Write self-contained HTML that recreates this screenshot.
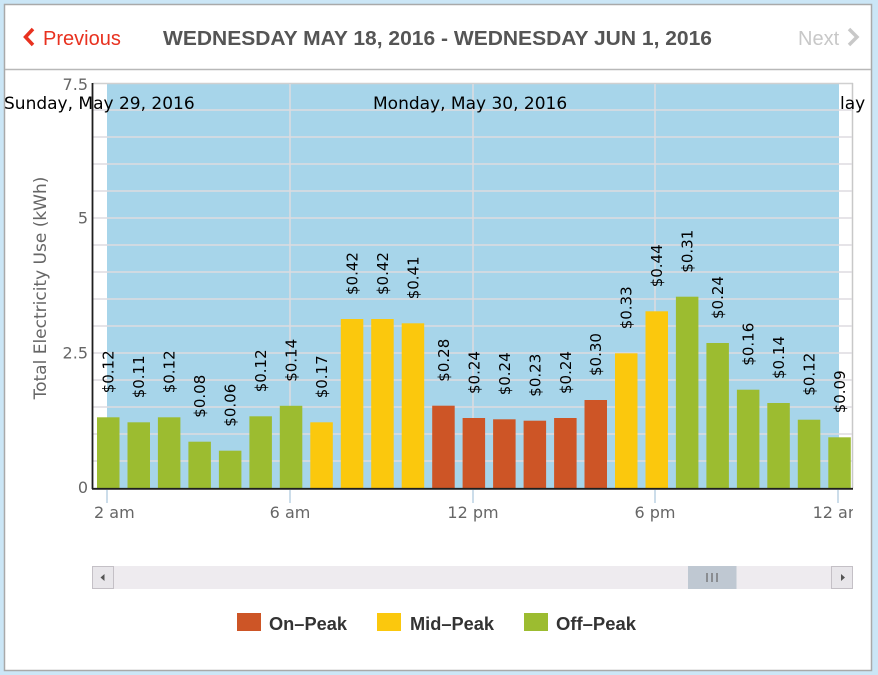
<!DOCTYPE html>
<html>
<head>
<meta charset="utf-8">
<style>
  html, body { margin: 0; padding: 0; }
  body { width: 878px; height: 675px; background: #cbe6f6; overflow: hidden; }
  svg { display: block; }
  .dv { font-family: "DejaVu Sans", "Liberation Sans", sans-serif; }
  .ls { font-family: "Liberation Sans", "DejaVu Sans", sans-serif; }
</style>
</head>
<body>
<svg width="878" height="675" viewBox="0 0 878 675" xmlns="http://www.w3.org/2000/svg">
  <defs>
    <clipPath id="xclip"><rect x="0" y="490" width="853" height="40"/></clipPath>
  </defs>

  <!-- card -->
  <rect x="4.5" y="4.5" width="867" height="666" fill="#ffffff" stroke="#a9a9a9" stroke-width="1.5"/>

  <!-- header -->
  <polyline points="33,29 25.5,37 33,45" fill="none" stroke="#e8311f" stroke-width="3.5" stroke-linejoin="miter"/>
  <text x="43" y="45" class="ls" font-size="20" fill="#e8311f">Previous</text>
  <text x="163" y="45" class="ls" font-size="20" font-weight="bold" fill="#555555" textLength="549" lengthAdjust="spacingAndGlyphs">WEDNESDAY MAY 18, 2016 - WEDNESDAY JUN 1, 2016</text>
  <text x="798" y="45" class="ls" font-size="20" fill="#c8c8c8">Next</text>
  <polyline points="849,29 857,37 849,45" fill="none" stroke="#c8c8c8" stroke-width="3.5"/>
  <line x1="5" y1="69.5" x2="871" y2="69.5" stroke="#b8b8b8" stroke-width="1.5"/>

  <!-- plot background -->
  <rect x="93" y="83" width="760" height="405" fill="#ffffff"/>
  <rect x="107" y="84" width="732" height="404" fill="#a7d5ea"/>
  <line x1="93" y1="83.5" x2="853" y2="83.5" stroke="#d0d0d0" stroke-width="1.5"/>
  <line x1="852.5" y1="83" x2="852.5" y2="488" stroke="#c8c8c8" stroke-width="1.5"/>

  <!-- horizontal grid -->
  <g stroke="#dedbe0" stroke-width="1.5">
    <line x1="93" y1="110" x2="852" y2="110"/>
    <line x1="93" y1="137" x2="852" y2="137"/>
    <line x1="93" y1="164" x2="852" y2="164"/>
    <line x1="93" y1="191" x2="852" y2="191"/>
    <line x1="93" y1="218" x2="852" y2="218"/>
    <line x1="93" y1="245" x2="852" y2="245"/>
    <line x1="93" y1="272" x2="852" y2="272"/>
    <line x1="93" y1="299" x2="852" y2="299"/>
    <line x1="93" y1="326" x2="852" y2="326"/>
    <line x1="93" y1="353" x2="852" y2="353"/>
    <line x1="93" y1="380" x2="852" y2="380"/>
    <line x1="93" y1="407" x2="852" y2="407"/>
    <line x1="93" y1="434" x2="852" y2="434"/>
    <line x1="93" y1="461" x2="852" y2="461"/>
  </g>
  <!-- vertical grid -->
  <g stroke="#dedbe0" stroke-width="1.5">
    <line x1="290" y1="84" x2="290" y2="488"/>
    <line x1="473" y1="84" x2="473" y2="488"/>
    <line x1="655" y1="84" x2="655" y2="488"/>
  </g>

  <!-- date labels -->
  <g class="dv" font-size="17" fill="#000000">
    <text x="4" y="109">Sunday, May 29, 2016</text>
    <text x="373" y="109">Monday, May 30, 2016</text>
    <text x="840" y="109">lay</text>
  </g>

  <!-- bars -->
  <g>
    <rect x="97.0" y="417.3" width="22.5" height="70.7" fill="#9cbc30"/>
    <rect x="127.5" y="422.3" width="22.5" height="65.7" fill="#9cbc30"/>
    <rect x="157.9" y="417.3" width="22.5" height="70.7" fill="#9cbc30"/>
    <rect x="188.4" y="441.7" width="22.5" height="46.3" fill="#9cbc30"/>
    <rect x="218.9" y="450.7" width="22.5" height="37.3" fill="#9cbc30"/>
    <rect x="249.4" y="416.3" width="22.5" height="71.7" fill="#9cbc30"/>
    <rect x="279.8" y="405.8" width="22.5" height="82.2" fill="#9cbc30"/>
    <rect x="310.3" y="422.3" width="22.5" height="65.7" fill="#fbc80d"/>
    <rect x="340.8" y="319.0" width="22.5" height="169.0" fill="#fbc80d"/>
    <rect x="371.2" y="319.0" width="22.5" height="169.0" fill="#fbc80d"/>
    <rect x="401.7" y="323.3" width="22.5" height="164.7" fill="#fbc80d"/>
    <rect x="432.2" y="405.7" width="22.5" height="82.3" fill="#cd5526"/>
    <rect x="462.6" y="418.0" width="22.5" height="70.0" fill="#cd5526"/>
    <rect x="493.1" y="419.3" width="22.5" height="68.7" fill="#cd5526"/>
    <rect x="523.6" y="420.7" width="22.5" height="67.3" fill="#cd5526"/>
    <rect x="554.1" y="418.0" width="22.5" height="70.0" fill="#cd5526"/>
    <rect x="584.5" y="400.0" width="22.5" height="88.0" fill="#cd5526"/>
    <rect x="615.0" y="353.3" width="22.5" height="134.7" fill="#fbc80d"/>
    <rect x="645.5" y="311.3" width="22.5" height="176.7" fill="#fbc80d"/>
    <rect x="675.9" y="296.7" width="22.5" height="191.3" fill="#9cbc30"/>
    <rect x="706.4" y="343.0" width="22.5" height="145.0" fill="#9cbc30"/>
    <rect x="736.9" y="389.7" width="22.5" height="98.3" fill="#9cbc30"/>
    <rect x="767.3" y="403.0" width="22.5" height="85.0" fill="#9cbc30"/>
    <rect x="797.8" y="419.7" width="22.5" height="68.3" fill="#9cbc30"/>
    <rect x="828.3" y="437.3" width="22.5" height="50.7" fill="#9cbc30"/>
  </g>

  <!-- bar value labels -->
  <g class="dv" font-size="15" fill="#000000">
    <text transform="translate(113.7,393.3) rotate(-90)">$0.12</text>
    <text transform="translate(144.2,398.3) rotate(-90)">$0.11</text>
    <text transform="translate(174.6,393.3) rotate(-90)">$0.12</text>
    <text transform="translate(205.1,417.7) rotate(-90)">$0.08</text>
    <text transform="translate(235.6,426.7) rotate(-90)">$0.06</text>
    <text transform="translate(266.1,392.3) rotate(-90)">$0.12</text>
    <text transform="translate(296.5,381.8) rotate(-90)">$0.14</text>
    <text transform="translate(327.0,398.3) rotate(-90)">$0.17</text>
    <text transform="translate(357.5,295.0) rotate(-90)">$0.42</text>
    <text transform="translate(387.9,295.0) rotate(-90)">$0.42</text>
    <text transform="translate(418.4,299.3) rotate(-90)">$0.41</text>
    <text transform="translate(448.9,381.7) rotate(-90)">$0.28</text>
    <text transform="translate(479.3,394.0) rotate(-90)">$0.24</text>
    <text transform="translate(509.8,395.3) rotate(-90)">$0.24</text>
    <text transform="translate(540.3,396.7) rotate(-90)">$0.23</text>
    <text transform="translate(570.8,394.0) rotate(-90)">$0.24</text>
    <text transform="translate(601.2,376.0) rotate(-90)">$0.30</text>
    <text transform="translate(631.7,329.3) rotate(-90)">$0.33</text>
    <text transform="translate(662.2,287.3) rotate(-90)">$0.44</text>
    <text transform="translate(692.6,272.7) rotate(-90)">$0.31</text>
    <text transform="translate(723.1,319.0) rotate(-90)">$0.24</text>
    <text transform="translate(753.6,365.7) rotate(-90)">$0.16</text>
    <text transform="translate(784.0,379.0) rotate(-90)">$0.14</text>
    <text transform="translate(814.5,395.7) rotate(-90)">$0.12</text>
    <text transform="translate(845.0,413.3) rotate(-90)">$0.09</text>
  </g>

  <!-- axes -->
  <line x1="92.5" y1="83" x2="92.5" y2="489" stroke="#1e1e1e" stroke-width="1.8"/>
  <line x1="92" y1="488.8" x2="853" y2="488.8" stroke="#1e1e1e" stroke-width="1.8"/>

  <!-- y tick labels -->
  <g class="dv" font-size="16" fill="#666666" text-anchor="end">
    <text x="88" y="90">7.5</text>
    <text x="88" y="223.5">5</text>
    <text x="88" y="358.5">2.5</text>
    <text x="88" y="493">0</text>
  </g>
  <text transform="translate(46,288) rotate(-90)" class="dv" font-size="17" fill="#666666" text-anchor="middle">Total Electricity Use (kWh)</text>

  <!-- x ticks -->
  <g stroke="#a9c6dc" stroke-width="1.2">
    <line x1="107" y1="490" x2="107" y2="503"/>
    <line x1="290" y1="490" x2="290" y2="503"/>
    <line x1="473" y1="490" x2="473" y2="503"/>
    <line x1="655" y1="490" x2="655" y2="503"/>
    <line x1="838" y1="490" x2="838" y2="503"/>
  </g>
  <g class="dv" font-size="16" fill="#666666" clip-path="url(#xclip)">
    <text x="94" y="518">2 am</text>
    <text x="290" y="518" text-anchor="middle">6 am</text>
    <text x="473" y="518" text-anchor="middle">12 pm</text>
    <text x="655" y="518" text-anchor="middle">6 pm</text>
    <text x="838" y="518" text-anchor="middle">12 am</text>
  </g>

  <!-- scrollbar -->
  <rect x="92" y="566" width="761" height="23" fill="#eeebef"/>
  <rect x="92.5" y="566.5" width="21" height="22" fill="#e8e6ea" stroke="#c4c0c6" stroke-width="1"/>
  <polygon points="100.5,577.5 104.5,574 104.5,581" fill="#555555"/>
  <rect x="831.5" y="566.5" width="21" height="22" fill="#e8e6ea" stroke="#c4c0c6" stroke-width="1"/>
  <polygon points="845,577.5 841,574 841,581" fill="#555555"/>
  <rect x="688" y="566" width="48.5" height="23" fill="#bfc8d2"/>
  <g stroke="#666666" stroke-width="1.2">
    <line x1="707" y1="573" x2="707" y2="582"/>
    <line x1="712" y1="573" x2="712" y2="582"/>
    <line x1="717" y1="573" x2="717" y2="582"/>
  </g>

  <!-- legend -->
  <rect x="237" y="613" width="24" height="18" fill="#cd5526"/>
  <text x="269" y="630" class="ls" font-size="18" font-weight="bold" fill="#333333" textLength="78" lengthAdjust="spacingAndGlyphs">On–Peak</text>
  <rect x="377" y="613" width="24" height="18" fill="#fbc80d"/>
  <text x="410" y="630" class="ls" font-size="18" font-weight="bold" fill="#333333" textLength="84" lengthAdjust="spacingAndGlyphs">Mid–Peak</text>
  <rect x="524" y="613" width="24" height="18" fill="#9cbc30"/>
  <text x="556" y="630" class="ls" font-size="18" font-weight="bold" fill="#333333" textLength="80" lengthAdjust="spacingAndGlyphs">Off–Peak</text>
</svg>
</body>
</html>
